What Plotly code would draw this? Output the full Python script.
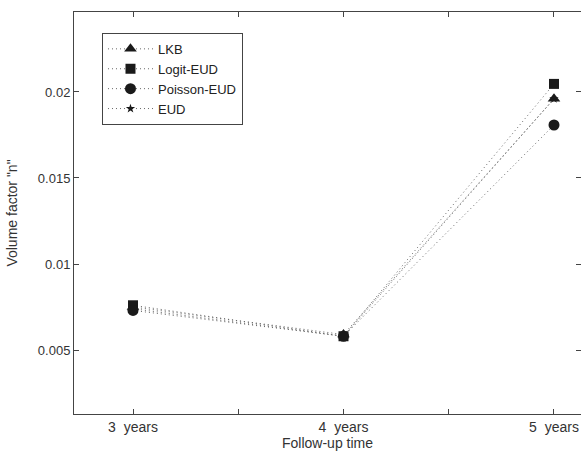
import plotly.graph_objects as go

years = [3, 4, 5]
tick_vals = [3, 3.5, 4, 4.5, 5]
tick_text = ["3\u00a0\u00a0years", "", "4\u00a0\u00a0years", "", "5\u00a0\u00a0years"]

series_names = ["LKB", "Logit-EUD", "Poisson-EUD", "EUD"]
lkb = [0.0075, 0.0059, 0.0196]
logit_eud = [0.0076, 0.0058, 0.02047]
poisson_eud = [0.0073, 0.0058, 0.01808]
eud = [0.0074, 0.0058, 0.0196]
symbols = ["triangle-up", "square", "circle", "star"]
sizes = [11, 10, 11, 7]

FONT = "Liberation Sans, Arial, sans-serif"

fig = go.Figure()
data = list(zip(series_names, [lkb, logit_eud, poisson_eud, eud], symbols, sizes, range(1, 5)))
# draw EUD first so it sits beneath the other markers, keep legend order via legendrank
for name, vals, sym, sz, rank in [data[3]] + data[:3]:
    fig.add_trace(go.Scatter(
        x=years, y=vals, name=name, mode="lines+markers", legendrank=rank,
        line=dict(color="#666666", width=1, dash="1px,3px"),
        marker=dict(symbol=sym, size=sz, color="#1a1a1a", line=dict(width=0)),
    ))

axis_common = dict(
    showline=True, linecolor="#444444", linewidth=1, mirror="ticks",
    ticks="inside", ticklen=5, tickcolor="#444444", showgrid=False, zeroline=False,
)

fig.update_layout(
    width=581, height=453,
    margin=dict(l=74, r=0, t=12, b=39),
    paper_bgcolor="white", plot_bgcolor="white",
    font=dict(family=FONT, size=12, color="#333333"),
    xaxis=dict(range=[2.7197, 5.1283], tickvals=tick_vals, ticktext=tick_text,
               tickfont=dict(family=FONT, size=14, color="#333333"),
               title=dict(text="Follow-up time", standoff=0, font=dict(size=14)), **axis_common),
    yaxis=dict(range=[0.00128, 0.02465], tickvals=[0.005, 0.01, 0.015, 0.02],
               ticktext=["0.005", "0.01", "0.015", "0.02"],
               tickfont=dict(family=FONT, size=13, color="#333333"),
               title=dict(text='Volume factor "n"', standoff=16, font=dict(size=14)), **axis_common),
    legend=dict(x=0.0552, y=0.948, xanchor="left", yanchor="top",
                bgcolor="white", bordercolor="#444444", borderwidth=1,
                itemwidth=45, traceorder="normal",
                font=dict(size=13, color="#222222"), tracegroupgap=0),
    showlegend=True,
)

fig.write_html("out.html", post_script="document.body.style.margin='0px';",
               config={"displayModeBar": False})
